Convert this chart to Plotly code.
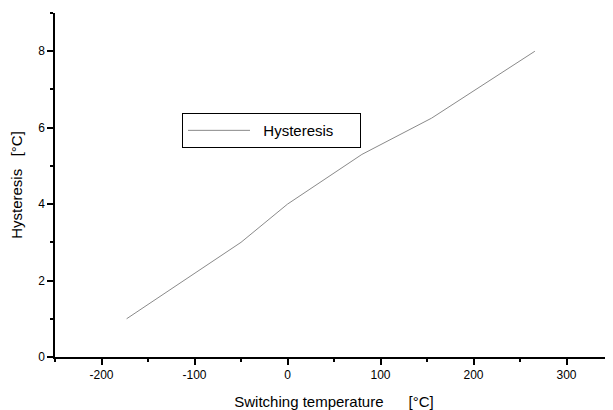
import plotly.graph_objects as go

switch_temp = [-173, -50, 0, 80, 155, 266]
hysteresis = [1.0, 3.0, 4.0, 5.3, 6.25, 8.0]

x_tick_vals = [-200, -100, 0, 100, 200, 300]
x_tick_text = ["-200", "-100", "0", "100", "200", "300"]
y_tick_vals = [0, 2, 4, 6, 8]
y_tick_text = ["0", "2", "4", "6", "8"]

FONT = "Liberation Sans, Arial, sans-serif"
NB = "\u00a0"

fig = go.Figure()
fig.add_trace(go.Scatter(
    x=switch_temp, y=hysteresis, mode="lines", name=NB * 2 + "Hysteresis",
    line=dict(color="#8a8a8a", width=1),
))

axis_common = dict(
    showgrid=False, zeroline=False, showline=True, linecolor="black", linewidth=1.5,
    ticks="outside", ticklen=6, tickwidth=1.5, tickcolor="black",
    tickfont=dict(family=FONT, size=12, color="black"),
    automargin=False,
)
fig.update_xaxes(
    range=[-250, 350], tickmode="array", tickvals=x_tick_vals, ticktext=x_tick_text,
    minor=dict(ticks="outside", ticklen=3, tickwidth=1.5, tickcolor="black", tickmode="linear", tick0=0, dtick=50),
    title=dict(text="Switching temperature" + NB * 6 + "[°C]", font=dict(family=FONT, size=15, color="black"), standoff=16),
    **axis_common,
)
fig.update_yaxes(
    range=[0, 9], tickmode="array", tickvals=y_tick_vals, ticktext=y_tick_text,
    minor=dict(ticks="outside", ticklen=3, tickwidth=1.5, tickcolor="black", tickmode="linear", tick0=0, dtick=1),
    title=dict(text="Hysteresis" + NB * 3 + "[°C]", font=dict(family=FONT, size=15, color="black"), standoff=13),
    **axis_common,
)
fig.update_layout(
    width=605, height=402,
    margin=dict(l=47, r=0, t=5, b=53),
    paper_bgcolor="white", plot_bgcolor="white",
    showlegend=True,
    legend=dict(
        x=0.2276, y=0.709, xanchor="left", yanchor="top",
        orientation="h",
        bordercolor="black", borderwidth=1, bgcolor="white",
        font=dict(family=FONT, size=15, color="black"),
        entrywidth=100, itemwidth=62,
    ),
)
fig.write_html("out.html")
